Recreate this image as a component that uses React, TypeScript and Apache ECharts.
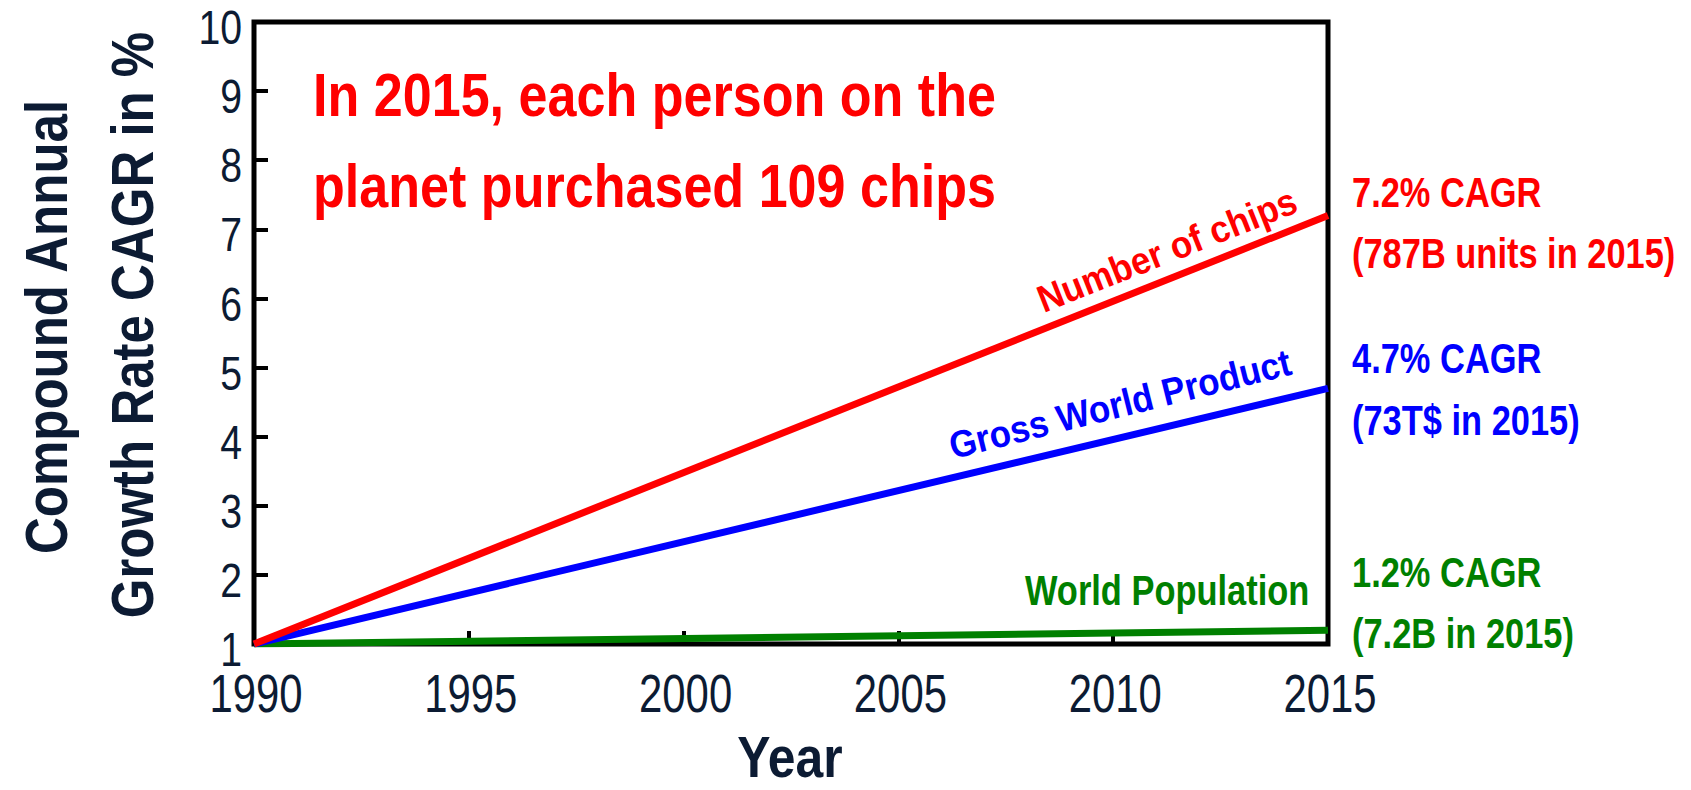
import React, { useEffect, useRef } from "react";
import * as echarts from "echarts";

// ---- data ----
const years = [1990, 2015];
const chipsGrowth = [1, 7.2];
const gwpGrowth = [1, 4.7];
const populationGrowth = [1, 1.2];
const seriesNames = ["Number of chips", "Gross World Product", "World Population"];
const seriesColors = ["#ff0000", "#0000ff", "#008000"];
const titleLines = ["In 2015, each person on the", "planet purchased 109 chips"];
const chipsNote = ["7.2% CAGR", "(787B units in 2015)"];
const gwpNote = ["4.7% CAGR", "(73T$ in 2015)"];
const populationNote = ["1.2% CAGR", "(7.2B in 2015)"];
const yAxisTitle = ["Compound Annual", "Growth Rate CAGR in %"];
const xAxisTitle = "Year";
const xTickLabels = [1990, 1995, 2000, 2005, 2010, 2015];
const yTickLabels = [1, 2, 3, 4, 5, 6, 7, 8, 9, 10];
const xMin = 1990;
const xMax = 2015;
const xStep = 5;
const yMin = 1;
const yMax = 10;
const yStep = 1;

const INK = "#0c1b33";
const FAMILY = "'Liberation Sans', Arial, sans-serif";

function txt(
  text: string,
  x: number,
  y: number,
  size: number,
  color: string,
  o: { rotation?: number; scaleX?: number; align?: string; weight?: string; lineHeight?: number } = {}
) {
  const align = o.align || "left";
  return {
    type: "text",
    x,
    y,
    rotation: o.rotation || 0,
    scaleX: o.scaleX ?? 1,
    z: 100,
    silent: true,
    style: {
      text,
      fill: color,
      fontSize: size,
      fontWeight: o.weight || "bold",
      fontFamily: FAMILY,
      lineHeight: o.lineHeight,
      align,
      verticalAlign: "middle",
      textAlign: align,
      textVerticalAlign: "middle",
    },
  };
}

function pairs(ys: number[]) {
  return years.map((yr, i) => [yr, ys[i]]);
}

export default function App() {
  const ref = useRef<HTMLDivElement>(null);
  useEffect(() => {
    if (!ref.current) return;
    const chart = echarts.init(ref.current, undefined, { renderer: "svg" });
    const deg = Math.PI / 180;
    const mk = (name: string, data: number[], color: string) => ({
      name,
      type: "line",
      data: pairs(data),
      showSymbol: false,
      symbol: "none",
      silent: true,
      z: 3,
      lineStyle: { color, width: 7, cap: "butt" },
      itemStyle: { color },
    });
    chart.setOption({
      animation: false,
      backgroundColor: "#ffffff",
      grid: {
        left: 254,
        top: 22,
        right: 1691 - 1328,
        bottom: 790 - 644,
        show: true,
        borderColor: "#000000",
        borderWidth: 5,
        backgroundColor: "transparent",
      },
      xAxis: {
        type: "value",
        min: xMin,
        max: xMax,
        interval: xStep,
        splitLine: { show: false },
        axisLine: { show: false },
        axisTick: { show: true, inside: true, length: 13, lineStyle: { color: "#000", width: 4 } },
        axisLabel: { show: false },
      },
      yAxis: {
        type: "value",
        min: yMin,
        max: yMax,
        interval: yStep,
        splitLine: { show: false },
        axisLine: { show: false },
        axisTick: { show: true, inside: true, length: 14, lineStyle: { color: "#000", width: 4 } },
        axisLabel: { show: false },
      },
      series: [
        mk(seriesNames[2], populationGrowth, seriesColors[2]),
        mk(seriesNames[1], gwpGrowth, seriesColors[1]),
        mk(seriesNames[0], chipsGrowth, seriesColors[0]),
      ],
    });

    // tick labels placed through the axes' own scales (narrow look via scaleX)
    const tickTexts: any[] = [];
    xTickLabels.forEach((v) => {
      const px = chart.convertToPixel({ xAxisIndex: 0 }, v) as number;
      const py = chart.convertToPixel({ yAxisIndex: 0 }, yMin) as number;
      tickTexts.push(
        txt(String(v), px + 2, py + 50, 53, INK, { scaleX: 0.79, align: "center", weight: "normal", lineHeight: 42 })
      );
    });
    yTickLabels.forEach((v) => {
      const px = chart.convertToPixel({ xAxisIndex: 0 }, xMin) as number;
      const py = chart.convertToPixel({ yAxisIndex: 0 }, v) as number;
      tickTexts.push(
        txt(String(v), px - 12, py + 5, 49, INK, { scaleX: 0.8, align: "right", weight: "normal", lineHeight: 40 })
      );
    });

    const graphic = [
      ...tickTexts,
      txt(titleLines[0], 313, 94, 62, "#ff0000", { scaleX: 0.84 }),
      txt(titleLines[1], 313, 185, 62, "#ff0000", { scaleX: 0.84 }),
      txt(chipsNote[0], 1352, 192, 42, seriesColors[0], { scaleX: 0.82 }),
      txt(chipsNote[1], 1352, 253, 42, seriesColors[0], { scaleX: 0.82 }),
      txt(gwpNote[0], 1352, 358, 42, seriesColors[1], { scaleX: 0.82 }),
      txt(gwpNote[1], 1352, 420, 42, seriesColors[1], { scaleX: 0.82 }),
      txt(populationNote[0], 1352, 572, 42, seriesColors[2], { scaleX: 0.82 }),
      txt(populationNote[1], 1352, 633, 42, seriesColors[2], { scaleX: 0.82 }),
      txt(seriesNames[0], 1167, 250, 38, seriesColors[0], { rotation: 21.6 * deg, scaleX: 0.92, align: "center" }),
      txt(seriesNames[1], 1120, 404, 38, seriesColors[1], { rotation: 14 * deg, scaleX: 0.92, align: "center" }),
      txt(seriesNames[2], 1025, 590, 42, seriesColors[2], { scaleX: 0.82 }),
      txt(yAxisTitle[0], 47, 327, 60, INK, { rotation: 90 * deg, scaleX: 0.85, align: "center" }),
      txt(yAxisTitle[1], 133, 325, 60, INK, { rotation: 90 * deg, scaleX: 0.85, align: "center" }),
      txt(xAxisTitle, 790, 757, 58, INK, { scaleX: 0.86, align: "center", lineHeight: 46 }),
    ];
    chart.setOption({ graphic });
    return () => chart.dispose();
  }, []);
  return (
    <div
      ref={ref}
      style={{ position: "fixed", left: 0, top: 0, width: 1691, height: 790, background: "#fff" }}
    />
  );
}
